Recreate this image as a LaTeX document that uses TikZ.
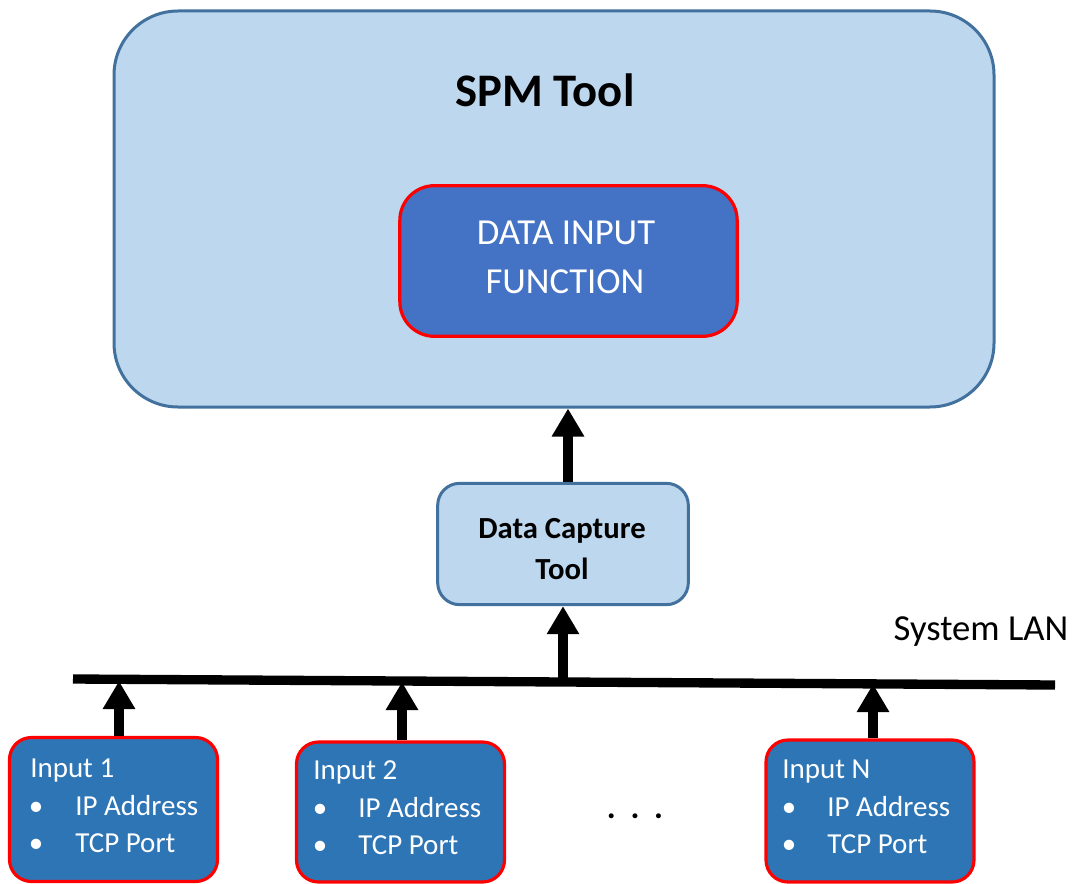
\documentclass[tikz,border=0pt]{standalone}
\usepackage{fontspec}
\setmainfont{Carlito}
\usetikzlibrary{arrows.meta}
\definecolor{panel}{HTML}{BDD7EE}
\definecolor{paneledge}{HTML}{41719C}
\definecolor{funcfill}{HTML}{4472C4}
\definecolor{inputfill}{HTML}{2E75B6}
\definecolor{alertred}{HTML}{FF0000}
\begin{document}
\begin{tikzpicture}[x=0.75pt,y=-0.75pt,
  panelbox/.style={draw=paneledge, line width=2.25pt, fill=panel, inner sep=0pt},
  funcbox/.style={draw=alertred, line width=2.4pt, fill=funcfill, inner sep=0pt, rounded corners=26pt},
  inputbox/.style={draw=alertred, line width=2.4pt, fill=inputfill, inner sep=0pt, rounded corners=16.5pt,
    minimum width=156pt},
  txt/.style={inner sep=0pt, anchor=base},
  intxt/.style={inner sep=0pt, anchor=base west, text=white, font=\fontsize{21.75pt}{26pt}\selectfont},
  bul/.style={inner sep=0pt, anchor=base, text=white, font=\fontsize{21.75pt}{26pt}\selectfont},
  bigarrow/.style={line width=7pt, -{Triangle[width=23pt,length=21pt]}},
  lan/.style={line width=7pt}
]
\useasboundingbox (0,0) rectangle (1073,884);

% SPM tool frame and its inner function block
\node[panelbox, rounded corners=48pt, minimum width=660pt, minimum height=297pt] (spm) at (554,209) {};
\node[txt, font=\bfseries\fontsize{35pt}{42pt}\selectfont] (spmlabel) at (545,107) {SPM Tool};
\node[funcbox, minimum width=253pt, minimum height=113pt] (func) at (568.5,261) {};
\node[txt, text=white, font=\fontsize{27.5pt}{33pt}\selectfont] (funcA) at (566,244) {DATA INPUT};
\node[txt, text=white, font=\fontsize{27.5pt}{33pt}\selectfont] (funcB) at (565,293) {FUNCTION};

% capture tool
\node[panelbox, rounded corners=16.5pt, minimum width=188pt, minimum height=91pt] (cap) at (563,544) {};
\node[txt, font=\bfseries\fontsize{23pt}{28pt}\selectfont] (capA) at (562,538) {Data Capture};
\node[txt, font=\bfseries\fontsize{23pt}{28pt}\selectfont] (capB) at (562,579) {Tool};

% system LAN bus
\coordinate (lanL) at (73,679);
\coordinate (lanR) at (1055,685);
\draw[lan] (lanL) -- (lanR);
\node[txt, font=\fontsize{27.5pt}{33pt}\selectfont] (lanlabel) at (981,640) {System LAN};

% input boxes
\node[inputbox, minimum height=108pt] (in1) at (113.5,809.5) {};
\node[inputbox, minimum height=105pt] (in2) at (400.5,812) {};
\node[inputbox, minimum height=106.5pt] (inN) at (870,811) {};

\node[intxt] (in1a) at (30,777) {Input 1};
\node[bul]   (in1b) at (36,815) {•};
\node[intxt] (in1c) at (75,815) {IP Address};
\node[bul]   (in1d) at (36,852) {•};
\node[intxt] (in1e) at (75,852) {TCP Port};

\node[intxt] (in2a) at (313,779) {Input 2};
\node[bul]   (in2b) at (320,817) {•};
\node[intxt] (in2c) at (358,817) {IP Address};
\node[bul]   (in2d) at (320,854) {•};
\node[intxt] (in2e) at (358,854) {TCP Port};

\node[intxt] (inNa) at (782,778) {Input N};
\node[bul]   (inNb) at (789,816) {•};
\node[intxt] (inNc) at (827,816) {IP Address};
\node[bul]   (inNd) at (789,853) {•};
\node[intxt] (inNe) at (827,853) {TCP Port};

% ellipsis between the inputs
\node[txt, font=\bfseries\fontsize{25pt}{30pt}\selectfont] (dots) at (635,818) {.\hspace{11pt}.\hspace{11pt}.};

% connectors
\coordinate (t1) at (119,681);
\coordinate (t2) at (402,682);
\coordinate (tN) at (873,684);
\coordinate (tc) at (563,682);
\coordinate (upx) at (568,0);
\draw[bigarrow] (in1.north -| t1) -- (t1);
\draw[bigarrow] (in2.north -| t2) -- (t2);
\draw[bigarrow] (inN.north -| tN) -- (tN);
\draw[bigarrow] (tc) -- (cap.south);
\draw[bigarrow] (cap.north -| upx) -- (spm.south -| upx);
\end{tikzpicture}
\end{document}
